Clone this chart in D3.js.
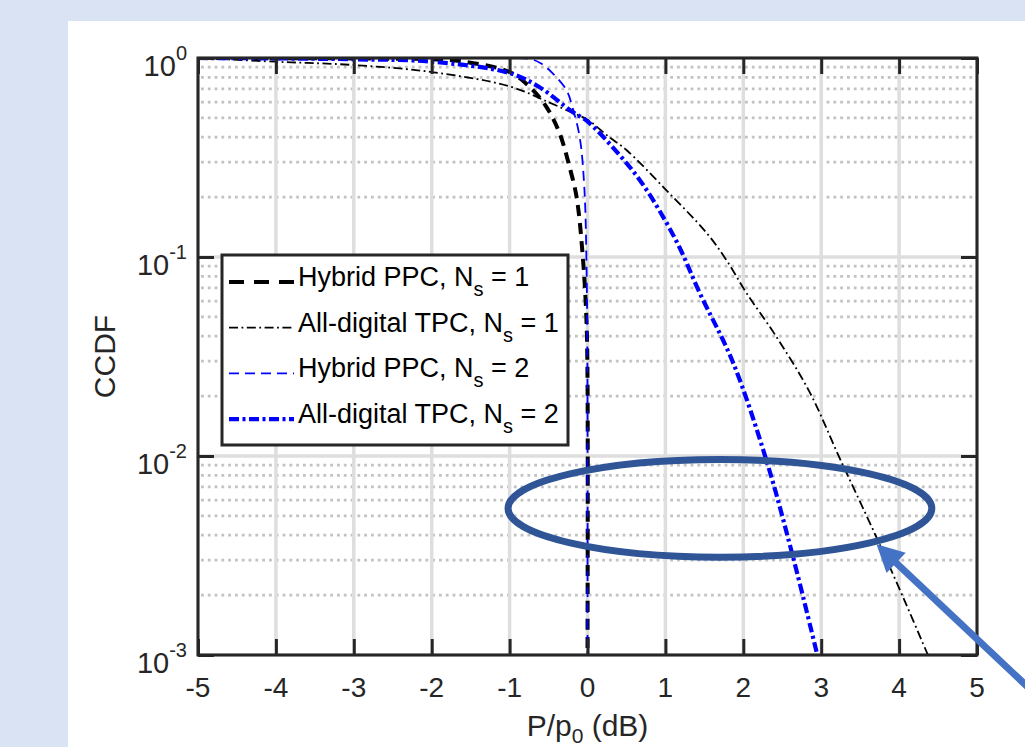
<!DOCTYPE html>
<html>
<head>
<meta charset="utf-8">
<script src="https://cdn.jsdelivr.net/npm/d3@7"></script>
<style>
  body { margin: 0; background: #dae3f3; }
  svg { display: block; font-family: "Liberation Sans", Arial, sans-serif; }
</style>
</head>
<body>
<svg id="chart" width="1025" height="747"></svg>
<script>
// tick values
var xTicks = [-5, -4, -3, -2, -1, 0, 1, 2, 3, 4, 5]
var yTicks = [1e-3, 1e-2, 1e-1, 1]
var yTickExp = ["-3", "-2", "-1", "0"]

// curves (x in dB, y = CCDF)
var ppc1X = [-5, -3, -2, -1.64, -1, -0.74, -0.53, -0.36, -0.23, -0.14, -0.06, -0.015, 0, 0]
var ppc1Y = [1, 0.995, 0.985, 0.965, 0.85, 0.715, 0.57, 0.42, 0.283, 0.2, 0.1, 0.05, 0.025, 0.001]

var tpc1X = [-5, -4, -3, -2, -1, -0.5, -0.19, 0, 0.28, 0.5, 1.01, 1.53, 1.78, 2.04, 2.42, 2.85, 3.23, 3.71, 4.09, 4.37]
var tpc1Y = [1, 0.958, 0.922, 0.85, 0.72, 0.6, 0.53, 0.49, 0.4, 0.345, 0.217, 0.132, 0.097, 0.066, 0.04, 0.021, 0.0099, 0.0039, 0.0018, 0.001]

var ppc2X = [-5, -2, -1, -0.74, -0.6, -0.45, -0.27, -0.19, -0.1, -0.04, -0.01, 0, 0]
var ppc2Y = [1, 1, 0.998, 0.99, 0.94, 0.84, 0.69, 0.56, 0.4, 0.22, 0.077, 0.02, 0.001]

var tpc2X = [-5, -4, -3, -2, -1, -0.62, -0.19, 0, 0.41, 0.67, 0.92, 1.18, 1.44, 1.86, 2.29, 2.63, 2.95]
var tpc2Y = [1, 0.995, 0.985, 0.958, 0.84, 0.715, 0.535, 0.48, 0.326, 0.244, 0.172, 0.112, 0.066, 0.03, 0.0097, 0.0032, 0.001]

var seriesNames = ["Hybrid PPC, N", "All-digital TPC, N", "Hybrid PPC, N", "All-digital TPC, N"]
var seriesNs = ["1", "1", "2", "2"]

// annotation (data coords)
var ellipseX = [-1.02, 4.42]
var ellipseY = [0.0096, 0.0031]
var arrowFrom = [5.67, 0.00068]
var arrowTo = [3.71, 0.0036]

var margin = {top: 58, right: 48, bottom: 92, left: 198},
    W = 1025, H = 747

var svg = d3.select("#chart")

var x = d3.scaleLinear().domain([-5, 5]).range([margin.left, W - margin.right])
var y = d3.scaleLog().domain([1e-3, 1]).range([H - margin.bottom, margin.top])

var x0 = x.range()[0], x1 = x.range()[1], y0 = y.range()[1], y1 = y.range()[0]

svg.append("rect").attr("width", W).attr("height", H).attr("fill", "#dae3f3")
svg.append("rect").attr("x", 68).attr("y", 21).attr("width", W).attr("height", H).attr("fill", "#fff")

svg.append("defs").append("clipPath").attr("id", "clip")
  .append("rect").attr("x", x0).attr("y", y0).attr("width", x1 - x0).attr("height", y1 - y0)

// minor grid
var minor = []
yTicks.slice(0, 3).forEach(function(d) {
  for (var k = 2; k <= 9; k++) minor.push(d * k)
})
svg.append("g").selectAll("line").data(minor).enter().append("line")
  .attr("x1", x0 + 3).attr("x2", x1)
  .attr("y1", function(d) { return y(d) }).attr("y2", function(d) { return y(d) })
  .attr("stroke", "#c2c2c2").attr("stroke-width", 2.8).attr("stroke-dasharray", "2.8,4")

// major grid
svg.append("g").selectAll("line").data(xTicks).enter().append("line")
  .attr("x1", function(d) { return x(d) }).attr("x2", function(d) { return x(d) })
  .attr("y1", y0).attr("y2", y1)
  .attr("stroke", "#dedede").attr("stroke-width", 3.5)
svg.append("g").selectAll("line").data(yTicks).enter().append("line")
  .attr("y1", function(d) { return y(d) }).attr("y2", function(d) { return y(d) })
  .attr("x1", x0).attr("x2", x1)
  .attr("stroke", "#dedede").attr("stroke-width", 3.5)

// curves
var styles = [
  {color: "#000", width: 4, dash: "11,7"},
  {color: "#000", width: 1.8, dash: "9,3.5,1.8,3.5"},
  {color: "#0000ff", width: 1.8, dash: "10,6"},
  {color: "#0000ff", width: 4.2, dash: "10,3.5,3,3.5"}
]
var series = [
  d3.zip(ppc1X, ppc1Y), d3.zip(tpc1X, tpc1Y), d3.zip(ppc2X, ppc2Y), d3.zip(tpc2X, tpc2Y)
]

var line = d3.line()
  .x(function(d) { return x(d[0]) })
  .y(function(d) { return y(d[1]) })
  .curve(d3.curveCatmullRom.alpha(0.5))

svg.append("g").attr("clip-path", "url(#clip)")
  .selectAll("path").data(series).enter().append("path")
  .attr("d", line)
  .attr("fill", "none")
  .attr("stroke", function(d, i) { return styles[i].color })
  .attr("stroke-width", function(d, i) { return styles[i].width })
  .attr("stroke-dasharray", function(d, i) { return styles[i].dash })

// axes (ticks inward)
var axisColor = "#262626"
function styleAxis(g) {
  g.select(".domain").remove()
  g.selectAll(".tick line").attr("stroke", axisColor).attr("stroke-width", 3)
  g.selectAll("text").remove()
}
svg.append("g").attr("transform", "translate(0," + y1 + ")")
  .call(d3.axisBottom(x).tickValues(xTicks).tickSize(-16)).call(styleAxis)
svg.append("g").attr("transform", "translate(0," + y0 + ")")
  .call(d3.axisTop(x).tickValues(xTicks).tickSize(-16)).call(styleAxis)
svg.append("g").attr("transform", "translate(" + x0 + ",0)")
  .call(d3.axisLeft(y).tickValues(yTicks).tickSize(-16)).call(styleAxis)
svg.append("g").attr("transform", "translate(" + x1 + ",0)")
  .call(d3.axisRight(y).tickValues(yTicks).tickSize(-16)).call(styleAxis)

svg.append("rect").attr("x", x0).attr("y", y0).attr("width", x1 - x0).attr("height", y1 - y0)
  .attr("fill", "none").attr("stroke", axisColor).attr("stroke-width", 3)

// tick labels
svg.append("g").selectAll("text").data(xTicks).enter().append("text")
  .attr("x", function(d) { return x(d) }).attr("y", y1 + 42)
  .attr("text-anchor", "middle").attr("font-size", 28).attr("fill", axisColor)
  .text(function(d) { return d })

var yl = svg.append("g").selectAll("text").data(yTicks).enter().append("text")
  .attr("x", x0 - 11).attr("y", function(d) { return y(d) + 18 })
  .attr("text-anchor", "end").attr("font-size", 29).attr("fill", axisColor)
yl.append("tspan").text("10")
yl.append("tspan").attr("dy", -16).attr("font-size", 20).text(function(d, i) { return yTickExp[i] })

// axis labels
var xl = svg.append("text").attr("x", (x0 + x1) / 2).attr("y", 736)
  .attr("text-anchor", "middle").attr("font-size", 30).attr("fill", axisColor)
xl.append("tspan").text("P/p")
xl.append("tspan").attr("dy", 7).attr("font-size", 21).text("0")
xl.append("tspan").attr("dy", -7).text(" (dB)")

svg.append("text").attr("transform", "translate(115," + ((y0 + y1) / 2) + ") rotate(-90)")
  .attr("text-anchor", "middle").attr("font-size", 30).attr("fill", axisColor)
  .text("CCDF")

// legend
var lg = svg.append("g").attr("transform", "translate(222,255)")
lg.append("rect").attr("width", 346).attr("height", 190)
  .attr("fill", "#fff").attr("stroke", axisColor).attr("stroke-width", 3)
var row = lg.selectAll("g.row").data(seriesNames).enter().append("g")
  .attr("transform", function(d, i) { return "translate(0," + (27 + i * 45.7) + ")" })
row.append("line").attr("x1", 7).attr("x2", 72)
  .attr("stroke", function(d, i) { return styles[i].color })
  .attr("stroke-width", function(d, i) { return styles[i].width })
  .attr("stroke-dasharray", function(d, i) { return i == 0 ? "15,10" : styles[i].dash })
var lt = row.append("text").attr("x", 76).attr("y", 4).attr("font-size", 27).attr("fill", "#000")
lt.append("tspan").text(function(d) { return d })
lt.append("tspan").attr("dy", 10).attr("font-size", 20).text("s")
lt.append("tspan").attr("dy", -10).text(function(d, i) { return " = " + seriesNs[i] })

// annotation ellipse and arrow
var ex0 = x(ellipseX[0]), ex1 = x(ellipseX[1]), ey0 = y(ellipseY[0]), ey1 = y(ellipseY[1])
svg.append("ellipse")
  .attr("cx", (ex0 + ex1) / 2).attr("cy", (ey0 + ey1) / 2)
  .attr("rx", (ex1 - ex0) / 2).attr("ry", (ey1 - ey0) / 2)
  .attr("fill", "none").attr("stroke", "#2f5597").attr("stroke-width", 7)

var ax = x(arrowFrom[0]), ay = y(arrowFrom[1]), tx = x(arrowTo[0]), ty = y(arrowTo[1])
var len = Math.hypot(tx - ax, ty - ay), ux = (tx - ax) / len, uy = (ty - ay) / len
var headLen = 27, headW = 14
var bx = tx - ux * headLen, by = ty - uy * headLen
svg.append("line").attr("x1", ax).attr("y1", ay).attr("x2", bx + ux * 2).attr("y2", by + uy * 2)
  .attr("stroke", "#4472c4").attr("stroke-width", 7)
svg.append("path")
  .attr("d", "M" + tx + "," + ty + "L" + (bx - uy * headW) + "," + (by + ux * headW) +
             "L" + (bx + uy * headW) + "," + (by - ux * headW) + "Z")
  .attr("fill", "#4472c4")
</script>
</body>
</html>
